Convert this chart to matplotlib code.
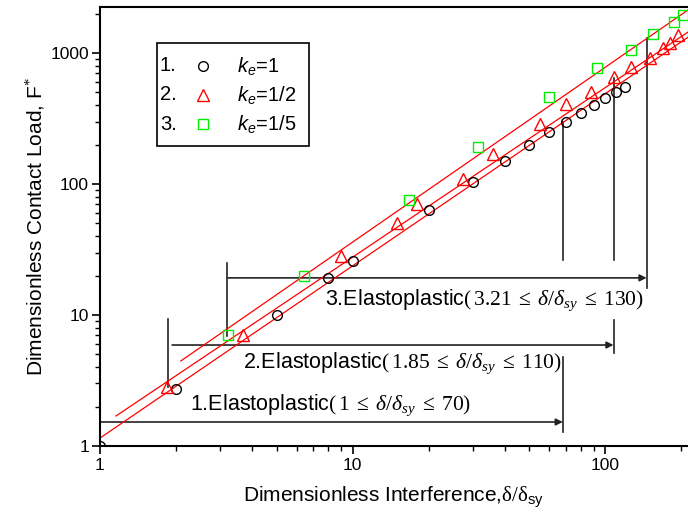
import numpy as np
import matplotlib
matplotlib.use('Agg')
import matplotlib.pyplot as plt
from matplotlib.patches import Rectangle
from matplotlib.ticker import FuncFormatter

plt.rcParams['font.family'] = ['Liberation Sans', 'DejaVu Sans']
plt.rcParams['mathtext.fontset'] = 'custom'
plt.rcParams['mathtext.rm'] = 'Liberation Serif'
plt.rcParams['mathtext.it'] = 'Liberation Serif:italic'
plt.rcParams['mathtext.sf'] = 'Liberation Sans:italic'
plt.rcParams['mathtext.fallback'] = 'stix'

# data
x_ke1 = [1, 2, 5, 8, 10, 20, 30, 40, 50, 60, 70, 80, 90, 100, 110, 120]
y_ke1 = [1, 2.7, 10, 19, 26, 63, 104, 150, 200, 250, 300, 350, 400, 450, 500, 550]
x_ke2 = [1.85, 3.7, 9, 15, 18, 27.5, 36, 55, 70, 88, 108, 127, 150, 170, 180, 195]
y_ke2 = [2.8, 7, 28, 50, 70, 110, 170, 285, 405, 505, 655, 780, 915, 1090, 1190, 1380]
x_ke5 = [3.21, 6.4, 16.7, 31.5, 60, 93, 127, 155, 188, 204]
y_ke5 = [7, 20, 75, 190, 460, 770, 1050, 1400, 1720, 1950]

# fitted lines (end points)
fit_x = [[1, 213], [1.157, 213], [2.09, 213]]
fit_y = [[1.15, 1320], [1.695, 1445], [4.46, 2130]]

# elastoplastic ranges
range_lo = [1, 1.93, 3.21]
range_hi = [68, 108, 146]
range_y = [1.525, 5.9, 19.2]
range_txt = ['1.Elastoplastic$(\\,1\\;\\leq\\;\\delta/\\delta_{sy}\\;\\leq\\;70)$',
             '2.Elastoplastic$(\\,1.85\\;\\leq\\;\\delta/\\delta_{sy}\\;\\leq\\;110)$',
             '3.Elastoplastic$(\\,3.21\\;\\leq\\;\\delta/\\delta_{sy}\\;\\leq\\;130)$']
range_txt_pos = [(2.27, 2.06), (3.68, 4.3), (7.78, 13.0)]

# marker lines (x, y0, y1)
vlines = [(68, 26.3, 300), (108, 26.3, 645), (146, 16.1, 1302),
          (68, 1.28, 4.78), (108, 5.13, 9.15),
          (1.86, 2.82, 9.3), (3.18, 6.9, 24.9)]


def main():
    fig = plt.figure(figsize=(6.88, 5.2), dpi=100)
    ax = fig.add_axes([100 / 688, 74 / 520, 588 / 688, 439 / 520])
    ax.set_xscale('log')
    ax.set_yscale('log')
    ax.set_xlim(1, 213)
    ax.set_ylim(1, 2245)

    for fx, fy in zip(fit_x, fit_y):
        ax.plot(fx, fy, color='red', lw=0.9, zorder=2)

    for x, y0, y1 in vlines:
        ax.plot([x, x], [y0, y1], color='#222222', lw=1.2, zorder=1)

    for lo, hi, y in zip(range_lo, range_hi, range_y):
        ax.annotate('', xy=(hi, y), xytext=(lo, y),
                    arrowprops=dict(arrowstyle='-|>', color='#222222', lw=1.2,
                                    mutation_scale=10, shrinkA=0, shrinkB=0),
                    zorder=1)
    for txt, (tx, ty) in zip(range_txt, range_txt_pos):
        ax.text(tx, ty, txt, fontsize=15.5, ha='left', va='center')

    ax.plot(x_ke1, y_ke1, 'o', ms=7, mfc='none', mec='black', mew=1.0, zorder=3)
    ax.plot(x_ke2, y_ke2, '^', ms=8, mfc='none', mec='red', mew=1.0, zorder=3)
    ax.plot(x_ke5, y_ke5, 's', ms=6.5, mfc='none', mec='#00ee00', mew=1.0, zorder=3)

    # legend box drawn by hand
    ax.add_patch(Rectangle((0.097, 0.683), 0.258, 0.235, transform=ax.transAxes,
                           fill=False, ec='black', lw=1.2, zorder=4))
    leg_rows = [0.866, 0.800, 0.733]
    leg_style = [('o', 'black', 7), ('^', 'red', 8), ('s', '#00ee00', 6.5)]
    leg_lab = ['$\\mathsf{k}_{\\mathsf{e}}$=1', '$\\mathsf{k}_{\\mathsf{e}}$=1/2',
               '$\\mathsf{k}_{\\mathsf{e}}$=1/5']
    for i, (ry, (m, ec, ms), lab) in enumerate(zip(leg_rows, leg_style, leg_lab)):
        ax.text(0.102, ry, f'{i + 1}.', transform=ax.transAxes, fontsize=14.5,
                ha='left', va='center')
        ax.plot([0.175], [ry], m, ms=ms, mfc='none', mec=ec, mew=1.0, transform=ax.transAxes)
        ax.text(0.233, ry, lab, transform=ax.transAxes, fontsize=14.5,
                ha='left', va='center')

    fmt = FuncFormatter(lambda v, p: f'{v:g}')
    ax.xaxis.set_major_formatter(fmt)
    ax.yaxis.set_major_formatter(fmt)
    ax.xaxis.set_minor_formatter(plt.NullFormatter())
    ax.yaxis.set_minor_formatter(plt.NullFormatter())
    ax.tick_params(which='major', direction='out', length=6, width=1.2, labelsize=12.5, pad=3)
    ax.tick_params(which='minor', direction='out', length=3.5, width=1.0)
    ax.tick_params(axis='y', pad=2)
    ax.spines['right'].set_visible(False)
    for s in ['left', 'bottom', 'top']:
        ax.spines[s].set_linewidth(1.5)

    ax.set_xlabel('Dimensionless Interference,$\\mathrm{\\delta}/\\mathrm{\\delta}_{\\mathregular{sy}}$',
                  fontsize=15, labelpad=8)
    ax.set_ylabel('Dimensionless Contact Load, F$^{*}$', fontsize=15, labelpad=2)

    fig.savefig('out.png', dpi=100)


if __name__ == "__main__":
    main()
